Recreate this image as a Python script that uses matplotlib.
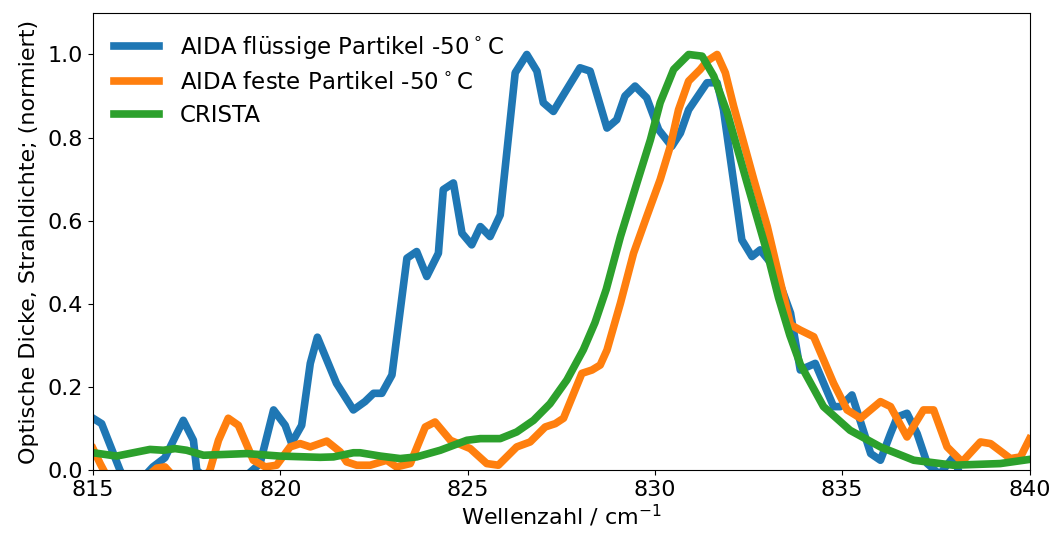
import matplotlib
matplotlib.use("Agg")
import matplotlib.pyplot as plt
import numpy as np

# AIDA liquid particles (negatives are clipped by ylim)
wn_fl = [815.0, 815.23, 815.72, 816.0, 816.6, 816.92, 817.41, 817.68, 817.77, 818.5,
         819.46, 819.82, 820.13, 820.3, 820.57, 820.8, 820.99, 821.5, 821.95, 822.26,
         822.49, 822.71, 822.98, 823.38, 823.64, 823.91, 824.22, 824.35, 824.62, 824.85,
         825.11, 825.34, 825.6, 825.87, 826.27, 826.58, 826.85, 827.02, 827.29, 827.47,
         828.0, 828.27, 828.72, 828.98, 829.2, 829.47, 829.78, 830.1, 830.45, 830.68,
         830.9, 831.39, 831.66, 831.83, 832.32, 832.59, 832.81, 833.17, 833.62, 833.88,
         834.28, 834.77, 834.95, 835.26, 835.76, 836.02, 836.29, 836.47, 836.73, 837.0,
         837.27, 837.6, 837.97, 838.3, 839.0, 840.0]
od_fl = [0.125, 0.112, 0.0, -0.05, 0.008, 0.03, 0.12, 0.072, 0.0, -0.06,
         0.016, 0.145, 0.108, 0.065, 0.108, 0.257, 0.32, 0.209, 0.145, 0.165,
         0.185, 0.185, 0.229, 0.51, 0.526, 0.466, 0.522, 0.675, 0.691, 0.57,
         0.542, 0.586, 0.562, 0.614, 0.956, 1.0, 0.96, 0.884, 0.863, 0.89,
         0.968, 0.96, 0.823, 0.843, 0.9, 0.924, 0.896, 0.819, 0.779, 0.811,
         0.867, 0.932, 0.932, 0.867, 0.554, 0.514, 0.53, 0.49, 0.378, 0.241,
         0.257, 0.153, 0.153, 0.181, 0.04, 0.024, 0.088, 0.128, 0.137, 0.088,
         0.016, -0.01, 0.032, -0.05, -0.06, -0.05]

# AIDA solid particles
wn_fe = [815.0, 815.19, 815.4, 816.0, 816.7, 816.92, 817.1, 817.8, 818.12, 818.35,
         818.61, 818.88, 819.28, 819.6, 819.9, 820.26, 820.53, 820.8, 821.24, 821.6,
         821.77, 822.04, 822.4, 822.84, 823.1, 823.47, 823.87, 824.13, 824.54, 825.07,
         825.51, 825.82, 826.31, 826.67, 827.07, 827.34, 827.56, 828.05, 828.32, 828.54,
         828.72, 829.08, 829.43, 829.78, 830.14, 830.41, 830.63, 830.9, 831.21, 831.39,
         831.66, 831.88, 832.1, 832.64, 833.0, 833.62, 833.88, 834.24, 834.77, 835.13,
         835.49, 836.02, 836.29, 836.73, 837.17, 837.44, 837.8, 838.2, 838.69, 838.96,
         839.49, 839.76, 840.0]
od_fe = [0.052, 0.016, -0.02, -0.05, 0.005, 0.008, -0.01, -0.04, 0.0, 0.072,
         0.125, 0.108, 0.024, 0.008, 0.012, 0.056, 0.064, 0.056, 0.07, 0.044,
         0.02, 0.012, 0.012, 0.024, 0.008, 0.016, 0.104, 0.116, 0.072, 0.052,
         0.016, 0.012, 0.056, 0.068, 0.104, 0.112, 0.125, 0.233, 0.241, 0.253,
         0.289, 0.402, 0.522, 0.61, 0.699, 0.779, 0.867, 0.936, 0.964, 0.984,
         1.0, 0.956, 0.876, 0.699, 0.586, 0.35, 0.337, 0.321, 0.209, 0.145,
         0.125, 0.165, 0.153, 0.08, 0.145, 0.145, 0.056, 0.02, 0.068, 0.064,
         0.028, 0.032, 0.075]

# CRISTA
wn_cr = [815.0, 815.63, 816.52, 816.88, 817.19, 817.5, 817.95, 819.1, 819.99, 821.06,
         821.42, 821.95, 822.13, 822.67, 823.2, 823.64, 824.27, 824.98, 825.34, 825.87,
         826.31, 826.76, 827.2, 827.65, 828.09, 828.4, 828.7, 829.08, 829.52, 829.88,
         830.14, 830.5, 830.9, 831.26, 831.57, 831.93, 832.46, 833.0, 833.3, 833.6,
         833.88, 834.5, 835.21, 836.02, 836.91, 837.97, 839.22, 840.0]
od_cr = [0.042, 0.034, 0.05, 0.048, 0.052, 0.048, 0.036, 0.04, 0.034, 0.031,
         0.032, 0.042, 0.042, 0.034, 0.028, 0.032, 0.048, 0.072, 0.076, 0.076,
         0.092, 0.12, 0.16, 0.217, 0.29, 0.355, 0.435, 0.562, 0.691, 0.795,
         0.884, 0.964, 1.0, 0.996, 0.948, 0.86, 0.691, 0.522, 0.415, 0.325,
         0.255, 0.153, 0.096, 0.056, 0.024, 0.012, 0.016, 0.026]

plt.rcParams['font.size'] = 16

fig, ax = plt.subplots(figsize=(10.57, 5.38), dpi=100)
fig.subplots_adjust(left=0.088, right=0.974, top=0.976, bottom=0.126)

ax.plot(wn_fl, od_fl, lw=5.5, color='tab:blue', label='AIDA flüssige Partikel -50$\\,^{\\circ}\\,$C')
ax.plot(wn_fe, od_fe, lw=5.5, color='tab:orange', label='AIDA feste Partikel -50$\\,^{\\circ}\\,$C')
ax.plot(wn_cr, od_cr, lw=5.5, color='tab:green', label='CRISTA')

ax.set_xlim(815, 840)
ax.set_ylim(0, 1.1)
ax.set_xticks([815, 820, 825, 830, 835, 840])
ax.set_yticks([0.0, 0.2, 0.4, 0.6, 0.8, 1.0])
ax.set_xlabel('Wellenzahl / cm$^{-1}$', labelpad=2)
ax.set_ylabel('Optische Dicke, Strahldichte; (normiert)', labelpad=6)
ax.legend(loc='upper left', frameon=False, fontsize=16.5, handlelength=2.0,
          handletextpad=0.9, borderaxespad=0.5, labelspacing=0.45)

fig.savefig('out.png', dpi=100)
